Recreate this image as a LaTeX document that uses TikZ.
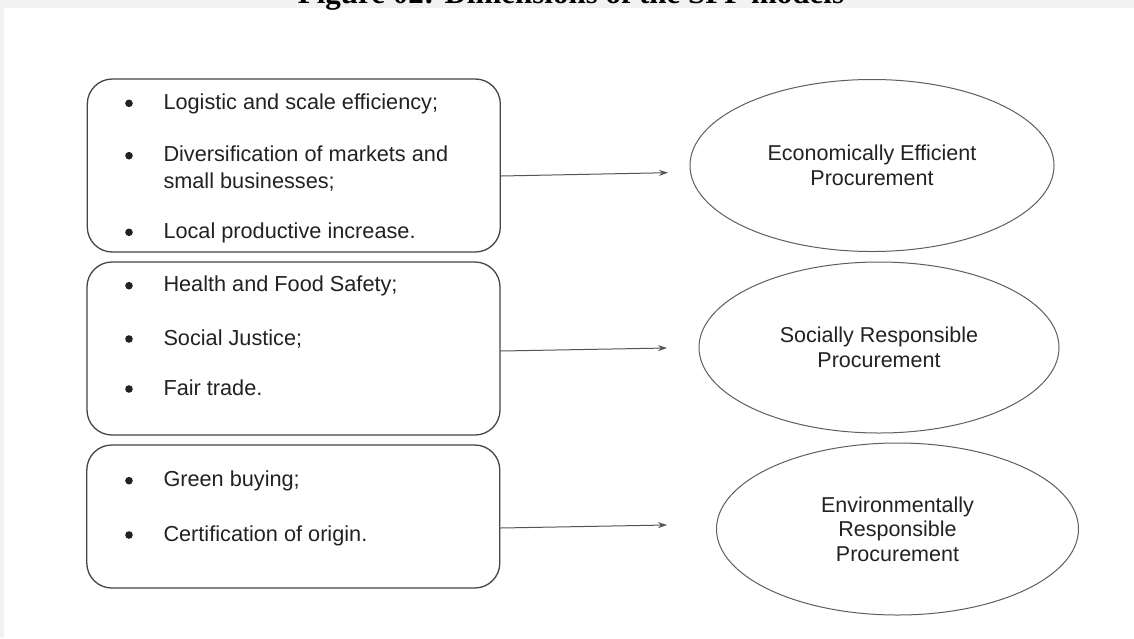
\documentclass[tikz,border=0pt]{standalone}
\usepackage{fontspec}
\setmainfont{Liberation Sans}
\newfontfamily\titlefont{Liberation Serif}
\usetikzlibrary{shapes.geometric,arrows.meta}
\definecolor{bandgray}{HTML}{F2F2F2}
\definecolor{boxline}{HTML}{454545}
\definecolor{elline}{HTML}{5E5E5E}
\definecolor{arrline}{HTML}{555555}
\definecolor{txt}{HTML}{222222}
\tikzset{
  itembox/.style={draw=boxline, line width=1.3pt, rounded corners=25pt, minimum width=413pt, inner sep=0pt, fill=white},
  goal/.style={draw=elline, line width=1pt, ellipse, inner sep=0pt, align=center, text=txt,
    font=\fontsize{21.5pt}{24.5pt}\selectfont},
  item/.style={anchor=base west, inner sep=0pt, text=txt, font=\fontsize{21.7pt}{24.5pt}\selectfont},
  bul/.style={circle, fill=txt, inner sep=0pt, minimum size=7.6pt},
  arr/.style={draw=arrline, line width=1pt, -{Stealth[length=9pt,width=6pt]}},
  titl/.style={anchor=base, inner sep=0pt, font=\titlefont\bfseries\fontsize{31pt}{34pt}\selectfont}
}
\begin{document}
\begin{tikzpicture}[x=1pt, y=-1pt]
\useasboundingbox (0,0) rectangle (1134,638);
\fill[bandgray] (0,0) rectangle (1134,638);
\fill[white] (4,8) rectangle (1134,638);
\begin{scope}
\clip (0,0) rectangle (1134,638);
\node[titl] (title) at (571,3) {Figure 02: Dimensions of the SPP models};
\end{scope}

% boxes
\node[itembox, minimum height=173pt] (b1) at (293.8,165.5) {};
\node[itembox, minimum height=173pt] (b2) at (293.5,348.5) {};
\node[itembox, minimum height=143pt] (b3) at (293.3,516.5) {};

% box 1 items
\node[bul] (d11) at (129,103.3) {};
\node[item] (t11) at (163.3,109.3) {Logistic and scale efficiency;};
\node[bul] (d12) at (129,155.7) {};
\node[item] (t12) at (163.3,161.7) {Diversification of markets and};
\node[item] (t12b) at (163.3,188.3) {small businesses;};
\node[bul] (d13) at (129,232.3) {};
\node[item] (t13) at (163.3,238.3) {Local productive increase.};

% box 2 items
\node[bul] (d21) at (129,285.7) {};
\node[item] (t21) at (163.3,291.7) {Health and Food Safety;};
\node[bul] (d22) at (129,339) {};
\node[item] (t22) at (163.3,345) {Social Justice;};
\node[bul] (d23) at (129,389) {};
\node[item] (t23) at (163.3,395) {Fair trade.};

% box 3 items
\node[bul] (d31) at (129,480.7) {};
\node[item] (t31) at (163.3,486.7) {Green buying;};
\node[bul] (d32) at (129,535) {};
\node[item] (t32) at (163.3,541) {Certification of origin.};

% ellipses
\node[goal, minimum width=364pt, minimum height=172pt] (e1) at (872,165.5) {Economically Efficient\\Procurement};
\node[goal, minimum width=360pt, minimum height=171pt] (e2) at (879,347.5) {Socially Responsible\\Procurement};
\node[goal, minimum width=362pt, minimum height=172pt] (e3) at (897.5,529) {Environmentally\\Responsible\\Procurement};

% arrows (free ends)
\coordinate (a1) at (668,172.7);
\coordinate (a2) at (667,348);
\coordinate (a3) at (667,525);
\draw[arr] ([yshift=-10.5pt]b1.east) -- (a1);
\draw[arr] ([yshift=-2.5pt]b2.east) -- (a2);
\draw[arr] ([yshift=-11.5pt]b3.east) -- (a3);
\end{tikzpicture}
\end{document}
